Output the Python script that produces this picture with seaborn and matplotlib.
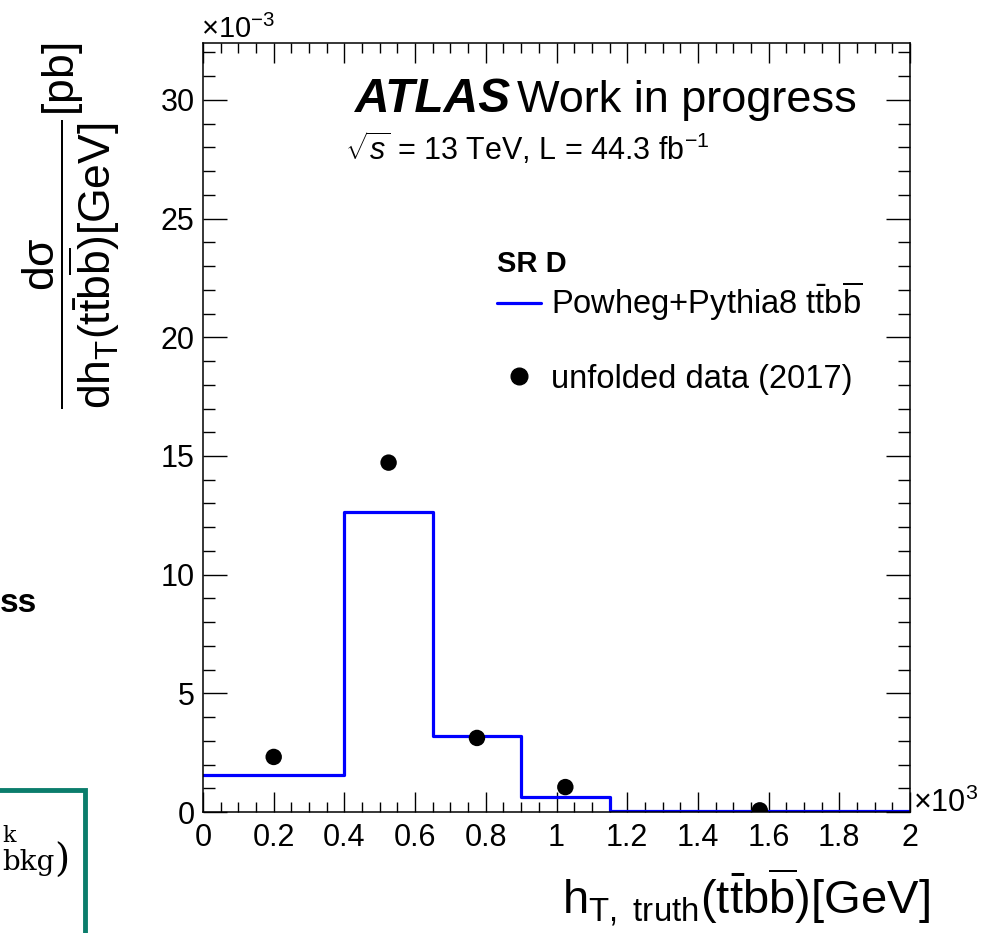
import numpy as np
import pandas as pd
import matplotlib
matplotlib.use("Agg")
import matplotlib.pyplot as plt
from matplotlib.lines import Line2D
from matplotlib.patches import Rectangle
from matplotlib.ticker import MultipleLocator
import seaborn as sns

# ---------------- data ----------------
bin_edges = [0.0, 0.4, 0.65, 0.9, 1.15, 2.0]          # x 10^3 GeV
bin_centers = [0.2, 0.525, 0.775, 1.025, 1.575]       # x 10^3 GeV
mc_values = [1.56, 12.66, 3.22, 0.64, 0.06]           # x 10^-3 pb/GeV  (Powheg+Pythia8)
data_values = [2.32, 14.72, 3.12, 1.05, 0.07]         # x 10^-3 pb/GeV  (unfolded data 2017)
mc_label = r"Powheg+Pythia8 $t\bar{t}b\overline{b}$"
data_label = "unfolded data (2017)"

df_mc = pd.DataFrame({"x": bin_centers, "w": mc_values})
df_data = pd.DataFrame({"x": bin_centers, "y": data_values})

# ---------------- style ----------------
sns.set_style("ticks")
plt.rcParams["font.family"] = ["Liberation Sans", "DejaVu Sans"]
plt.rcParams["mathtext.fontset"] = "custom"
plt.rcParams["mathtext.rm"] = "Liberation Sans"
plt.rcParams["mathtext.it"] = "Liberation Sans:italic"
plt.rcParams["mathtext.bf"] = "Liberation Sans:bold"
plt.rcParams["mathtext.sf"] = "Liberation Sans"
plt.rcParams["mathtext.default"] = "regular"
for k in ["text.color", "axes.labelcolor", "xtick.color", "ytick.color", "axes.edgecolor"]:
    plt.rcParams[k] = "black"

W, H = 1002, 933
fig = plt.figure(figsize=(W / 100, H / 100), dpi=100)

def fx(p):
    return p / W

def fy(p):
    return 1 - p / H

L, R, T, B = 203, 910, 43, 812
ax = fig.add_axes([fx(L), fy(B), (R - L) / W, (B - T) / H])

sns.histplot(data=df_mc, x="x", weights="w", bins=bin_edges, element="step",
             fill=False, color="#0000ff", linewidth=2.3, ax=ax)
sns.scatterplot(data=df_data, x="x", y="y", color="black", s=140,
                edgecolor="none", ax=ax, zorder=5)

ax.set_xlim(0, 2)
ax.set_ylim(0, 32.4)
ax.set_xlabel("")
ax.set_ylabel("")
ax.xaxis.set_major_locator(MultipleLocator(0.2))
ax.xaxis.set_minor_locator(MultipleLocator(0.05))
ax.yaxis.set_major_locator(MultipleLocator(5))
ax.yaxis.set_minor_locator(MultipleLocator(1))
ax.set_xticks(np.arange(0, 2.01, 0.2))
ax.set_xticklabels(["0", "0.2", "0.4", "0.6", "0.8", "1", "1.2", "1.4", "1.6", "1.8", "2"])
ax.set_yticks([0, 5, 10, 15, 20, 25, 30])
ax.set_yticklabels(["0", "5", "10", "15", "20", "25", "30"])

for s in ax.spines.values():
    s.set_visible(True)
    s.set_linewidth(1.1)
    s.set_color("black")

ax.tick_params(axis="x", which="major", direction="in", length=14.4, width=1.0,
               top=True, bottom=True, labelsize=22, pad=8, colors="black")
ax.tick_params(axis="x", which="minor", direction="in", length=7.2, width=1.0,
               top=True, bottom=True)
ax.tick_params(axis="y", which="major", direction="in", length=17.3, width=1.0,
               left=True, right=True, labelsize=22, pad=6, colors="black")
ax.tick_params(axis="y", which="minor", direction="in", length=8.6, width=1.0,
               left=True, right=True)

# exponent labels
fig.text(fx(201), fy(38), r"$\times10^{-3}$", fontsize=21, ha="left", va="baseline")
fig.text(fx(913), fy(812), r"$\times10^{3}$", fontsize=22, ha="left", va="baseline")

# axis titles
fig.text(fx(71), fy(43),
         r"$\dfrac{d\sigma}{dh_{T}(t\bar{t}b\overline{b})[GeV]}$[pb]",
         rotation=90, fontsize=32, ha="center", va="top")
fig.text(fx(930), fy(914), r"$h_{T,\ truth}(t\bar{t}b\overline{b})[GeV]$",
         fontsize=34, ha="right", va="baseline")

# ATLAS label
fig.text(fx(355), fy(112), "ATLAS", fontsize=34.5, fontweight="bold",
         fontstyle="italic", ha="left", va="baseline")
fig.text(fx(517), fy(112), "Work in progress", fontsize=32.5, ha="left", va="baseline")
fig.text(fx(345), fy(160), r"$\sqrt{\mathit{s}}$ = 13 TeV, L = 44.3 fb$^{-1}$",
         fontsize=22, ha="left", va="baseline")

# legend
fig.text(fx(497), fy(272), "SR D", fontsize=21, fontweight="bold", ha="left", va="baseline")
handles = [Line2D([], [], color="#0000ff", linewidth=2.3),
           Line2D([], [], color="black", marker="o", linestyle="none", markersize=12)]
leg = ax.legend(handles, [mc_label, data_label],
                loc="upper left", bbox_to_anchor=(fx(497), fy(280)),
                bbox_transform=fig.transFigure, frameon=False, fontsize=23.5,
                handlelength=1.35, handletextpad=0.3,
                labelspacing=1.25, borderpad=0.0, borderaxespad=0.0)

# residue of the slide at the left border
fig.text(fx(0), fy(612), "ss", fontsize=24, fontweight="bold", ha="left", va="baseline")
fig.patches.append(Rectangle((fx(-20), fy(960)), fx(105), fy(790) - fy(960),
                             transform=fig.transFigure, fill=False,
                             edgecolor="#0b7d6c", linewidth=3.5))
fig.text(fx(2), fy(842), "k", fontsize=16, family="DejaVu Serif", ha="left", va="baseline")
fig.text(fx(2), fy(870), "bkg", fontsize=20, family="DejaVu Serif", ha="left", va="baseline")
fig.text(fx(54), fy(872), ")", fontsize=28, family="DejaVu Serif", ha="left", va="baseline")

fig.savefig("out.png", dpi=100)
